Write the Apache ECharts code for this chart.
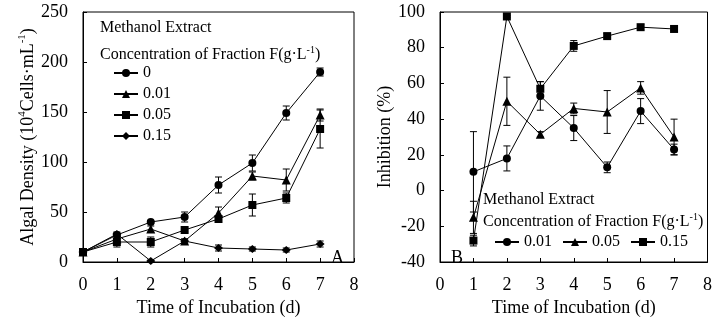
<!DOCTYPE html>
<html>
<head>
<meta charset="utf-8">
<script src="https://cdn.jsdelivr.net/npm/echarts@6/dist/echarts.min.js"></script>
<style>
  html, body { margin: 0; padding: 0; background: #fff; }
  #chart { width: 715px; height: 322px; }
</style>
</head>
<body>
<div id="chart"></div>
<script>
// 資料：A 圖（藻密度）
const daysA = [0, 1, 2, 3, 4, 5, 6, 7];
const densA0 = [10, 27, 40, 45, 77, 99, 149, 190];
const errA0 = [1, 2, 1, 5, 8, 8, 7, 4];
const densA001 = [10, 23, 33, 21, 49, 86, 82, 147];
const errA001 = [1, 3, 3, 2, 6, 4, 11, 6];
const densA005 = [10, 20, 20, 32, 43, 57, 64, 133];
const errA005 = [1, 5, 5, 2, 3, 11, 5, 19];
const densA015 = [10, 28, 1, 21, 14, 13, 12, 18];
const errA015 = [1, 2, 1, 2, 3, 2, 2, 3];

// 資料：B 圖（抑制率）
const daysB = [1, 2, 3, 4, 5, 6, 7];
const inhB001 = [10.5, 18, 53, 35, 13, 44.5, 23];
const errB001 = [22.5, 7, 8, 7, 3, 7, 3];
const inhB005 = [-15, 50, 31.5, 46, 44, 57.5, 30];
const errB005 = [9, 13.5, 1.5, 3, 12, 3.5, 10];
const inhB015 = [-28, 97.5, 57, 81, 86.5, 91.5, 90.5];
const errB015 = [3, 0.5, 4, 3, 1.5, 1.5, 1];

const xTicks = [0, 8, 1];   // min, max, interval
const yTicksA = [0, 250, 50];
const yTicksB = [-40, 100, 20];

const FONT = "'Liberation Serif', 'Times New Roman', serif";

const chart = echarts.init(document.getElementById('chart'));

const pair = (xs, ys) => xs.map((x, i) => [x, ys[i]]);

const lineSeries = (name, idx, xs, ys, symbol, size) => ({
  name: name,
  type: 'line',
  xAxisIndex: idx,
  yAxisIndex: idx,
  data: pair(xs, ys),
  symbol: symbol,
  symbolSize: size,
  showAllSymbol: true,
  lineStyle: { color: '#000', width: 1 },
  itemStyle: { color: '#000', borderWidth: 0 },
  animation: false,
  z: 3,
});

// 誤差線，用 custom series 畫
const errSeries = (idx, xs, ys, es) => ({
  type: 'custom',
  xAxisIndex: idx,
  yAxisIndex: idx,
  data: xs.map((x, i) => [x, ys[i], es[i]]),
  silent: true,
  animation: false,
  z: 2,
  renderItem: (params, api) => {
    const x = api.value(0), y = api.value(1), e = api.value(2);
    if (!e) return null;
    const hi = api.coord([x, y + e]);
    const lo = api.coord([x, y - e]);
    const w = 3.5;
    const st = { stroke: '#000', lineWidth: 1 };
    return {
      type: 'group',
      children: [
        { type: 'line', shape: { x1: hi[0], y1: hi[1], x2: lo[0], y2: lo[1] }, style: st },
        { type: 'line', shape: { x1: hi[0] - w, y1: hi[1], x2: hi[0] + w, y2: hi[1] }, style: st },
        { type: 'line', shape: { x1: lo[0] - w, y1: lo[1], x2: lo[0] + w, y2: lo[1] }, style: st },
      ],
    };
  },
});

const axisCommon = {
  axisLine: { show: true, onZero: false, lineStyle: { color: '#000', width: 1 } },
  axisTick: { show: true, inside: true, length: 4, lineStyle: { color: '#000' } },
  axisLabel: { color: '#000', fontFamily: FONT, fontSize: 18 },
  splitLine: { show: false },
  nameTextStyle: { color: '#000', fontFamily: FONT, fontSize: 18 },
};

const xAxis = (idx) => Object.assign({}, axisCommon, {
  type: 'value',
  gridIndex: idx,
  min: xTicks[0],
  max: xTicks[1],
  interval: xTicks[2],
  name: 'Time of Incubation (d)',
  nameLocation: 'middle',
  nameGap: 37,
  axisLabel: Object.assign({}, axisCommon.axisLabel, { margin: 14 }),
});

const sup = { fontSize: 11, fontFamily: FONT, color: '#000', verticalAlign: 'top', lineHeight: 22 };
const reg = { fontSize: 18, fontFamily: FONT, color: '#000', lineHeight: 22 };
const reg16 = { fontSize: 16, fontFamily: FONT, color: '#000', lineHeight: 20 };
const sup16 = { fontSize: 10, fontFamily: FONT, color: '#000', verticalAlign: 'top', lineHeight: 20 };

const legendCommon = {
  itemWidth: 24,
  itemHeight: 10,
  textStyle: { color: '#000', fontFamily: FONT, fontSize: 16 },
  formatter: (n) => n.slice(2),
  selectedMode: false,
};

const option = {
  backgroundColor: '#fff',
  animation: false,
  grid: [
    { left: 83, top: 12, width: 271, height: 254, show: true, borderColor: '#000', borderWidth: 1, backgroundColor: 'transparent' },
    { left: 440, top: 12, width: 274, height: 254, show: true, borderColor: '#000', borderWidth: 1, backgroundColor: 'transparent' },
  ],
  xAxis: [xAxis(0), xAxis(1)],
  yAxis: [
    Object.assign({}, axisCommon, {
      type: 'value',
      gridIndex: 0,
      min: yTicksA[0],
      max: yTicksA[1],
      interval: yTicksA[2],
      name: '{a|Algal Density (10}{s|4}{a|Cells·mL}{s|-1}{a|)}',
      nameLocation: 'middle',
      nameGap: 44,
      nameTextStyle: { rich: { a: reg, s: sup } },
      axisLabel: Object.assign({}, axisCommon.axisLabel, { margin: 15 }),
    }),
    Object.assign({}, axisCommon, {
      type: 'value',
      gridIndex: 1,
      min: yTicksB[0],
      max: yTicksB[1],
      interval: yTicksB[2],
      name: 'Inhibition (%)',
      nameLocation: 'middle',
      nameGap: 42,
      axisLabel: Object.assign({}, axisCommon.axisLabel, { margin: 15 }),
    }),
  ],
  legend: [
    Object.assign({}, legendCommon, {
      data: ['A:0', 'A:0.01', 'A:0.05', 'A:0.15'],
      orient: 'vertical',
      left: 113,
      top: 65,
      itemGap: 5,
      padding: 0,
    }),
    Object.assign({}, legendCommon, {
      data: ['B:0.01', 'B:0.05', 'B:0.15'],
      orient: 'horizontal',
      left: 494,
      top: 234,
      itemGap: 10,
      padding: 0,
    }),
  ],
  graphic: [
    { type: 'text', left: 100, top: 20, style: { text: 'Methanol Extract', fontFamily: FONT, fontSize: 16, fill: '#000' } },
    { type: 'text', left: 100, top: 45, style: { text: '{a|Concentration of Fraction F(g·L}{s|-1}{a|)}', rich: { a: reg16, s: sup16 } } },
    { type: 'text', left: 483, top: 192, style: { text: 'Methanol Extract', fontFamily: FONT, fontSize: 16, fill: '#000' } },
    { type: 'text', left: 483, top: 212, style: { text: '{a|Concentration of Fraction F(g·L}{s|-1}{a|)}', rich: { a: reg16, s: sup16 } } },
    { type: 'text', left: 331, top: 249, style: { text: 'A', fontFamily: FONT, fontSize: 18, fill: '#000' } },
    { type: 'text', left: 451, top: 249, style: { text: 'B', fontFamily: FONT, fontSize: 18, fill: '#000' } },
  ],
  series: [
    errSeries(0, daysA, densA0, errA0),
    errSeries(0, daysA, densA001, errA001),
    errSeries(0, daysA, densA005, errA005),
    errSeries(0, daysA, densA015, errA015),
    lineSeries('A:0', 0, daysA, densA0, 'circle', 8),
    lineSeries('A:0.01', 0, daysA, densA001, 'triangle', 9),
    lineSeries('A:0.05', 0, daysA, densA005, 'rect', 8),
    lineSeries('A:0.15', 0, daysA, densA015, 'diamond', [9, 8]),
    errSeries(1, daysB, inhB001, errB001),
    errSeries(1, daysB, inhB005, errB005),
    errSeries(1, daysB, inhB015, errB015),
    lineSeries('B:0.01', 1, daysB, inhB001, 'circle', 8),
    lineSeries('B:0.05', 1, daysB, inhB005, 'triangle', 9),
    lineSeries('B:0.15', 1, daysB, inhB015, 'rect', 8),
  ],
};

chart.setOption(option);
</script>
</body>
</html>
